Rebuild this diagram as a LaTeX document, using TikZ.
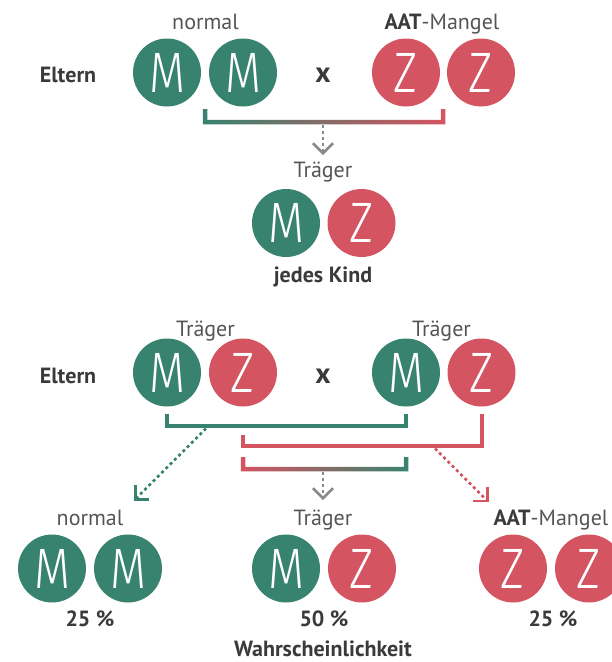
\documentclass[tikz,border=0pt]{standalone}
\usepackage{fontspec}
\usepackage{graphicx}
\setmainfont{PT Sans}
\newfontfamily\circfont{Fira Sans Light}
\usetikzlibrary{arrows.meta}
\definecolor{gr}{HTML}{37836F}
\definecolor{rd}{HTML}{D55461}
\definecolor{lblc}{HTML}{555555}
\definecolor{dk}{HTML}{3A3A3A}
\definecolor{arr}{HTML}{8A8A8A}
\newcommand\sq[1]{\scalebox{0.82}[1]{#1}}
\tikzset{
  allele/.style={circle, minimum size=68pt, inner sep=0pt, text=white,
    font=\circfont\fontsize{57}{57}\selectfont},
  mal/.style={allele, fill=gr},
  zal/.style={allele, fill=rd},
  lbl/.style={text=lblc, font=\fontsize{22}{26}\selectfont, inner sep=0pt, anchor=base},
  bld/.style={text=dk, font=\bfseries\fontsize{22}{26}\selectfont, inner sep=0pt, anchor=base},
  crossx/.style={text=dk, font=\bfseries\fontsize{29}{30}\selectfont, inner sep=0pt, anchor=base},
  pipe/.style={line width=4.5pt, line join=miter, line cap=butt},
  dotarrow/.style={line width=2.5pt, dash pattern=on 3pt off 3pt,
    -{Straight Barb[length=10pt,width=20pt,line width=2.5pt]}},
}
\begin{document}
\begin{tikzpicture}[x=1pt,y=-1pt]
\path[use as bounding box, clip] (0,0) rectangle (612,662);

% ---------- first cross ----------
\node[lbl] (n1) at (205.5,29.5) {normal};
\node[lbl] (a1) at (442,29.5) {\textbf{\color{dk}AAT}-Mangel};
\node[bld] (e1) at (68,82) {Eltern};
\node[crossx] (x1) at (323,82) {x};
\node[mal] (m1) at (167,72.5) {\sq{M}};
\node[mal] (m2) at (243,72.5) {\sq{M}};
\node[zal] (z1) at (406,72.5) {\sq{Z}};
\node[zal] (z2) at (481,72.5) {\sq{Z}};

\shade[left color=gr, right color=rd]
  (202.75,109) -- (202.75,124.25) -- (445.25,124.25) -- (445.25,109) --
  (440.75,109) -- (440.75,119.75) -- (207.25,119.75) -- (207.25,109) -- cycle;
\coordinate (b1) at (323,124.5);
\coordinate (t1) at (323,155);
\draw[dotarrow, arr] (b1) -- (t1);

\node[lbl] (tr1) at (323,177.5) {Träger};
\node[mal] (km) at (286,223) {\sq{M}};
\node[zal] (kz) at (361.5,223) {\sq{Z}};
\node[bld] (jk) at (323,282) {jedes Kind};

% ---------- second cross ----------
\node[lbl] (tr2) at (205.5,336.5) {Träger};
\node[lbl] (tr3) at (441.5,336.5) {Träger};
\node[bld] (e2) at (68,383) {Eltern};
\node[crossx] (x2) at (323,383) {x};
\node[mal] (p1m) at (167,372.5) {\sq{M}};
\node[zal] (p1z) at (243,372.5) {\sq{Z}};
\node[mal] (p2m) at (406,372.5) {\sq{M}};
\node[zal] (p2z) at (481.5,372.5) {\sq{Z}};

\draw[pipe, gr] (167,414) -- (167,426) -- (406,426) -- (406,414);
\draw[pipe, rd] (243,435) -- (243,446) -- (482,446) -- (482,414);
\shade[left color=rd, right color=gr]
  (240.75,457) -- (240.75,471.25) -- (408.25,471.25) -- (408.25,457) --
  (403.75,457) -- (403.75,466.75) -- (245.25,466.75) -- (245.25,457) -- cycle;

\coordinate (bg) at (206,428.5);
\coordinate (tg) at (134,500.5);
\coordinate (br) at (435,448.5);
\coordinate (tr) at (488.5,502);
\coordinate (bm) at (323,471.5);
\coordinate (tm) at (323,500);
\draw[dotarrow, gr] (bg) -- (tg);
\draw[dotarrow, rd] (br) -- (tr);
\draw[dotarrow, arr] (bm) -- (tm);

% ---------- offspring ----------
\node[lbl] (o1) at (90,525) {normal};
\node[lbl] (o2) at (323,525) {Träger};
\node[lbl] (o3) at (551,525) {\textbf{\color{dk}AAT}-Mangel};
\node[mal] (c1) at (52,568.5) {\sq{M}};
\node[mal] (c2) at (128,568.5) {\sq{M}};
\node[mal] (c3) at (286,568.5) {\sq{M}};
\node[zal] (c4) at (362,568.5) {\sq{Z}};
\node[zal] (c5) at (513,568.5) {\sq{Z}};
\node[zal] (c6) at (589,568.5) {\sq{Z}};
\node[bld] (p1) at (90,626.5) {25 \%};
\node[bld] (p2) at (324,626.5) {50 \%};
\node[bld] (p3) at (553,626.5) {25 \%};
\node[bld] (w) at (323,656) {Wahrscheinlichkeit};
\end{tikzpicture}
\end{document}
